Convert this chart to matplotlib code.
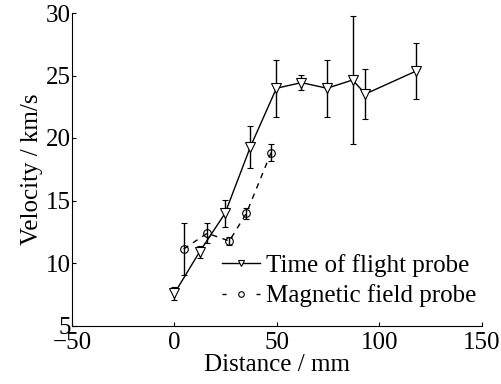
import matplotlib
matplotlib.use("Agg")
import matplotlib.pyplot as plt
from matplotlib.lines import Line2D

plt.rcParams['font.family'] = ['Liberation Serif', 'DejaVu Serif']

tof_x = [0, 12.3, 24.7, 37.1, 49.8, 62, 74.5, 87, 93.2, 118]
tof_y = [7.57, 10.9, 13.97, 19.3, 23.98, 24.43, 23.98, 24.64, 23.52, 25.36]
tof_err = [0.5, 0.5, 1.07, 1.7, 2.3, 0.6, 2.3, 5.1, 2.0, 2.27]

mag_x = [4.5, 16, 26.8, 35.1, 47.2]
mag_y = [11.12, 12.38, 11.76, 13.97, 18.83]
mag_err = [2.07, 0.8, 0.3, 0.45, 0.7]

xticks = [-50, 0, 50, 100, 150]
yticks = [5, 10, 15, 20, 25, 30]

FS = 18
fig = plt.figure(figsize=(5.01, 3.84), dpi=100)
ax = fig.add_axes([72/501, 1-325.5/384, (481.7-72)/501, (325.5-13)/384])

ax.errorbar(tof_x, tof_y, yerr=tof_err, color='black', lw=1.0, marker='v',
            markersize=6.5, markerfacecolor='white', markeredgecolor='black',
            markeredgewidth=0.8, capsize=2, elinewidth=1.0, capthick=1.0)
ax.errorbar(mag_x, mag_y, yerr=mag_err, color='black', lw=1.0, ls=(0, (4, 4)),
            marker='o', markersize=5.5, markerfacecolor='none', markeredgecolor='black',
            markeredgewidth=0.8, capsize=2, elinewidth=1.0, capthick=1.0)

ax.set_xlim(-50, 150)
ax.set_ylim(5, 30)
ax.set_xticks(xticks)
ax.set_yticks(yticks)
ax.set_xticklabels(['\u221250', '0', '50', '100', '150'])
ax.spines['top'].set_visible(False)
ax.spines['right'].set_visible(False)
ax.tick_params(direction='in', length=3, labelsize=FS)
ax.tick_params(axis='x', pad=5)
ax.tick_params(axis='y', pad=1)
ax.set_xlabel('Distance / mm', fontsize=FS, labelpad=0)
ax.set_ylabel('Velocity / km/s', fontsize=FS, labelpad=2)

h1 = Line2D([], [], color='black', lw=1.0, marker='v', markersize=5,
            markerfacecolor='white', markeredgecolor='black', markeredgewidth=0.8)
h2 = Line2D([], [], color='black', lw=1.0, ls=(0, (2.9, 21.6)), marker='o', markersize=4,
            markerfacecolor='none', markeredgecolor='black', markeredgewidth=0.8)
ax.legend([h1, h2], ['Time of flight probe', 'Magnetic field probe'],
          loc='upper left', bbox_to_anchor=((222-72)/409.7, (325.5-254)/312.5),
          frameon=False, fontsize=FS, handlelength=1.52, handletextpad=0.26,
          borderpad=0, borderaxespad=0, labelspacing=0.3)

fig.savefig('out.png', dpi=100)
